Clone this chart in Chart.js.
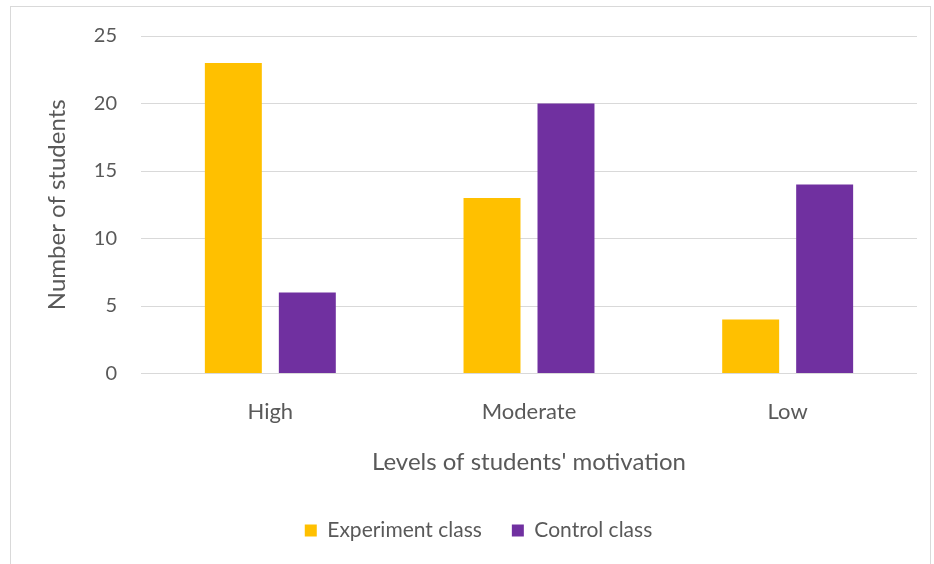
<!DOCTYPE html>
<html>
<head>
<meta charset="utf-8">
<script src="https://cdn.jsdelivr.net/npm/chart.js@4/dist/chart.umd.min.js"></script>
<style>
  html, body { margin: 0; padding: 0; background: #ffffff; }
  #wrap { position: relative; width: 934px; height: 564px; overflow: hidden; }
  #frame { position: absolute; left: 10px; top: 6px; width: 921px; height: 600px;
           border: 1px solid #d9d9d9; box-sizing: border-box; }
  #c { position: absolute; left: 0; top: 0; }
</style>
</head>
<body>
<div id="wrap">
  <div id="frame"></div>
  <canvas id="c" width="934" height="564"></canvas>
</div>
<script>
const categories = ['High', 'Moderate', 'Low'];
const experimentClass = [23, 13, 4];
const controlClass = [6, 20, 14];
const yTicks = [0, 5, 10, 15, 20, 25];

const FONT = 'Lato, "Open Sans", sans-serif';
const TEXT = '#595959';

new Chart(document.getElementById('c'), {
  type: 'bar',
  data: {
    labels: categories,
    datasets: [
      { label: 'Experiment class', data: experimentClass, backgroundColor: '#FFC000',
        barPercentage: 0.77, categoryPercentage: 0.572 },
      { label: 'Control class', data: controlClass, backgroundColor: '#7030A0',
        barPercentage: 0.77, categoryPercentage: 0.572 }
    ]
  },
  options: {
    responsive: false,
    animation: false,
    layout: { padding: { left: 40, right: 17, top: 36, bottom: 13 } },
    plugins: {
      legend: {
        position: 'bottom',
        labels: { color: TEXT, font: { family: FONT, size: 21 }, boxWidth: 12, boxHeight: 12, padding: 30 }
      },
      tooltip: { enabled: false }
    },
    scales: {
      x: {
        grid: { display: false, drawTicks: false },
        border: { display: false },
        ticks: { color: TEXT, font: { family: FONT, size: 22 }, padding: 25 },
        title: { display: true, text: "Levels of students' motivation", color: TEXT,
                 font: { family: FONT, size: 24 }, padding: { top: 0, bottom: 13 } },
        afterFit: s => { s.height = 116.5; }
      },
      y: {
        min: 0, max: 25,
        afterBuildTicks: s => { s.ticks = yTicks.map(v => ({ value: v })); },
        grid: { color: '#d9d9d9', lineWidth: 1, drawTicks: false },
        border: { display: false },
        ticks: { color: TEXT, font: { family: FONT, size: 20 }, padding: 24 },
        title: { display: true, text: 'Number of students', color: TEXT,
                 font: { family: FONT, size: 24 }, padding: { top: 3, bottom: 0 } },
        afterFit: s => { s.width = 101; }
      }
    }
  }
});
</script>
</body>
</html>
